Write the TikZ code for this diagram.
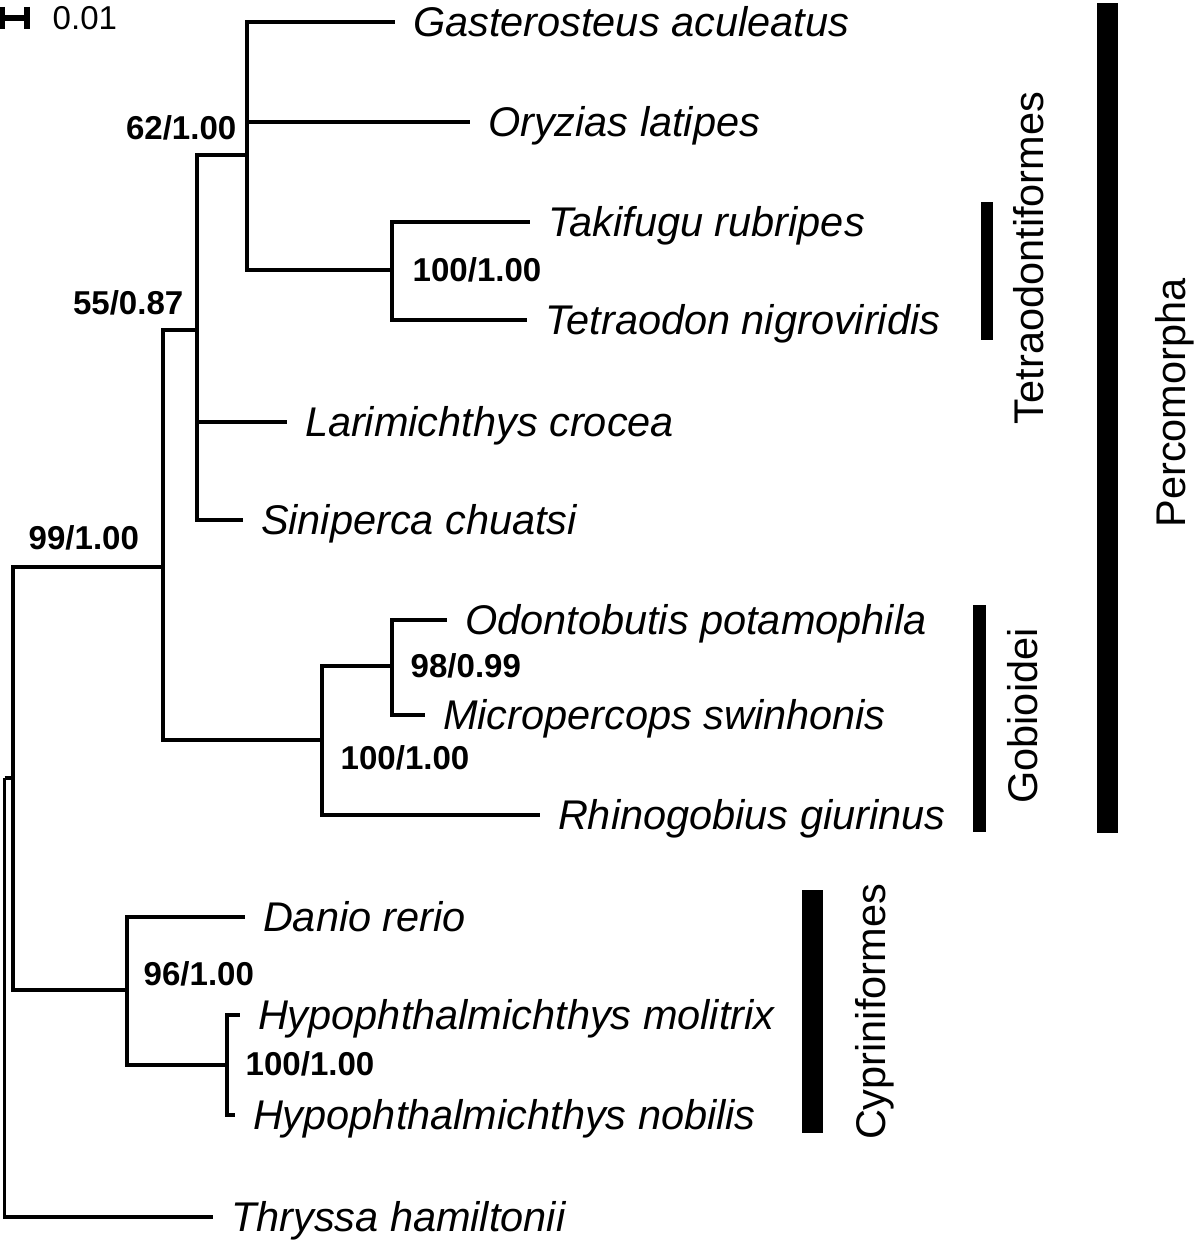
\documentclass[tikz,border=0pt]{standalone}
\usepackage{fontspec}
\setmainfont{Liberation Sans}
\tikzset{
  branch/.style = {line width=1.1pt},
  taxon/.style = {anchor=west, inner xsep=0.18cm, inner ysep=0pt, outer sep=0pt,
    text height=0.297cm, text depth=0pt,
    font=\fontsize{11.8pt}{14pt}\selectfont\itshape},
  support/.style = {inner sep=0pt, font=\fontsize{9.4pt}{11pt}\selectfont\bfseries},
  cladename/.style = {rotate=90, anchor=base, inner sep=0pt,
    font=\fontsize{11.8pt}{14pt}\selectfont},
}

\begin{document}
\begin{tikzpicture}[x=0.01cm,y=-0.01cm]
  \useasboundingbox (0,0) rectangle (1200,1242);
  % internal nodes
  \coordinate (root) at (4.5,778);
  \coordinate (nIn) at (13,778);
  \coordinate (n99) at (163,567);
  \coordinate (n55) at (197,330);
  \coordinate (n62) at (247,155);
  \coordinate (nTet) at (392,270);
  \coordinate (nGob) at (322,740);
  \coordinate (n98) at (392,666);
  \coordinate (n96) at (127,990);
  \coordinate (nHyp) at (227,1065);
  % taxa
  \foreach \name/\x/\y/\label in {%
    gast/395/22/Gasterosteus aculeatus,
    oryz/470/122/Oryzias latipes,
    taki/530/222/Takifugu rubripes,
    tetr/527/320/Tetraodon nigroviridis,
    lari/287/422/Larimichthys crocea,
    sini/243/520/Siniperca chuatsi,
    odon/447/620/Odontobutis potamophila,
    micr/425/715/Micropercops swinhonis,
    rhin/540/815/Rhinogobius giurinus,
    dani/245/917/Danio rerio,
    hmol/240/1015/Hypophthalmichthys molitrix,
    hnob/235/1115/Hypophthalmichthys nobilis,
    thry/213/1217/Thryssa hamiltonii} {%
    \node[taxon] (\name) at (\x,\y) {\label};
  }
  % branches
  \foreach \p/\c in {root/nIn, root/thry, nIn/n99, nIn/n96,
    n99/n55, n99/nGob, n55/n62, n55/lari, n55/sini,
    n62/gast, n62/oryz, n62/nTet, nTet/taki, nTet/tetr,
    nGob/n98, nGob/rhin, n98/odon, n98/micr,
    n96/dani, n96/nHyp, nHyp/hmol, nHyp/hnob} {%
    \draw[branch] (\p) |- (\c);
  }
  % support values
  \node[support,anchor=base east] (s62) at (237,139) {62/1.00};
  \node[support,anchor=base east] (s55) at (184,314) {55/0.87};
  \node[support,anchor=base west] (s99) at (28,549) {99/1.00};
  \node[support,anchor=base west] (sTet) at (412,281) {100/1.00};
  \node[support,anchor=base west] (s98) at (410,677) {98/0.99};
  \node[support,anchor=base west] (sGob) at (340,769) {100/1.00};
  \node[support,anchor=base west] (s96) at (143,985) {96/1.00};
  \node[support,anchor=base west] (sHyp) at (245,1075) {100/1.00};
  % scale bar
  \coordinate (sbL) at (2,18);
  \coordinate (sbR) at (27,18);
  \draw[line width=1.5pt] (sbL) -- (sbR)
    ([yshift=0.11cm]sbL) -- ([yshift=-0.11cm]sbL)
    ([yshift=0.11cm]sbR) -- ([yshift=-0.11cm]sbR);
  \node[inner sep=0pt,anchor=base west,font=\fontsize{9.4pt}{11pt}\selectfont] (sblabel) at (52,29) {0.01};
  % clade bars
  \foreach \xa/\ya/\xb/\yb in {981/202/993/340, 1097/3/1118/833, 973/605/986/832, 802/890/823/1133} {%
    \fill (\xa,\ya) rectangle (\xb,\yb);
  }
  \node[cladename] (tetraname) at (1043,258) {Tetraodontiformes};
  \node[cladename] (percname) at (1185,403) {Percomorpha};
  \node[cladename] (gobname) at (1037,716) {Gobioidei};
  \node[cladename] (cypname) at (885,1012) {Cypriniformes};
\end{tikzpicture}
\end{document}
